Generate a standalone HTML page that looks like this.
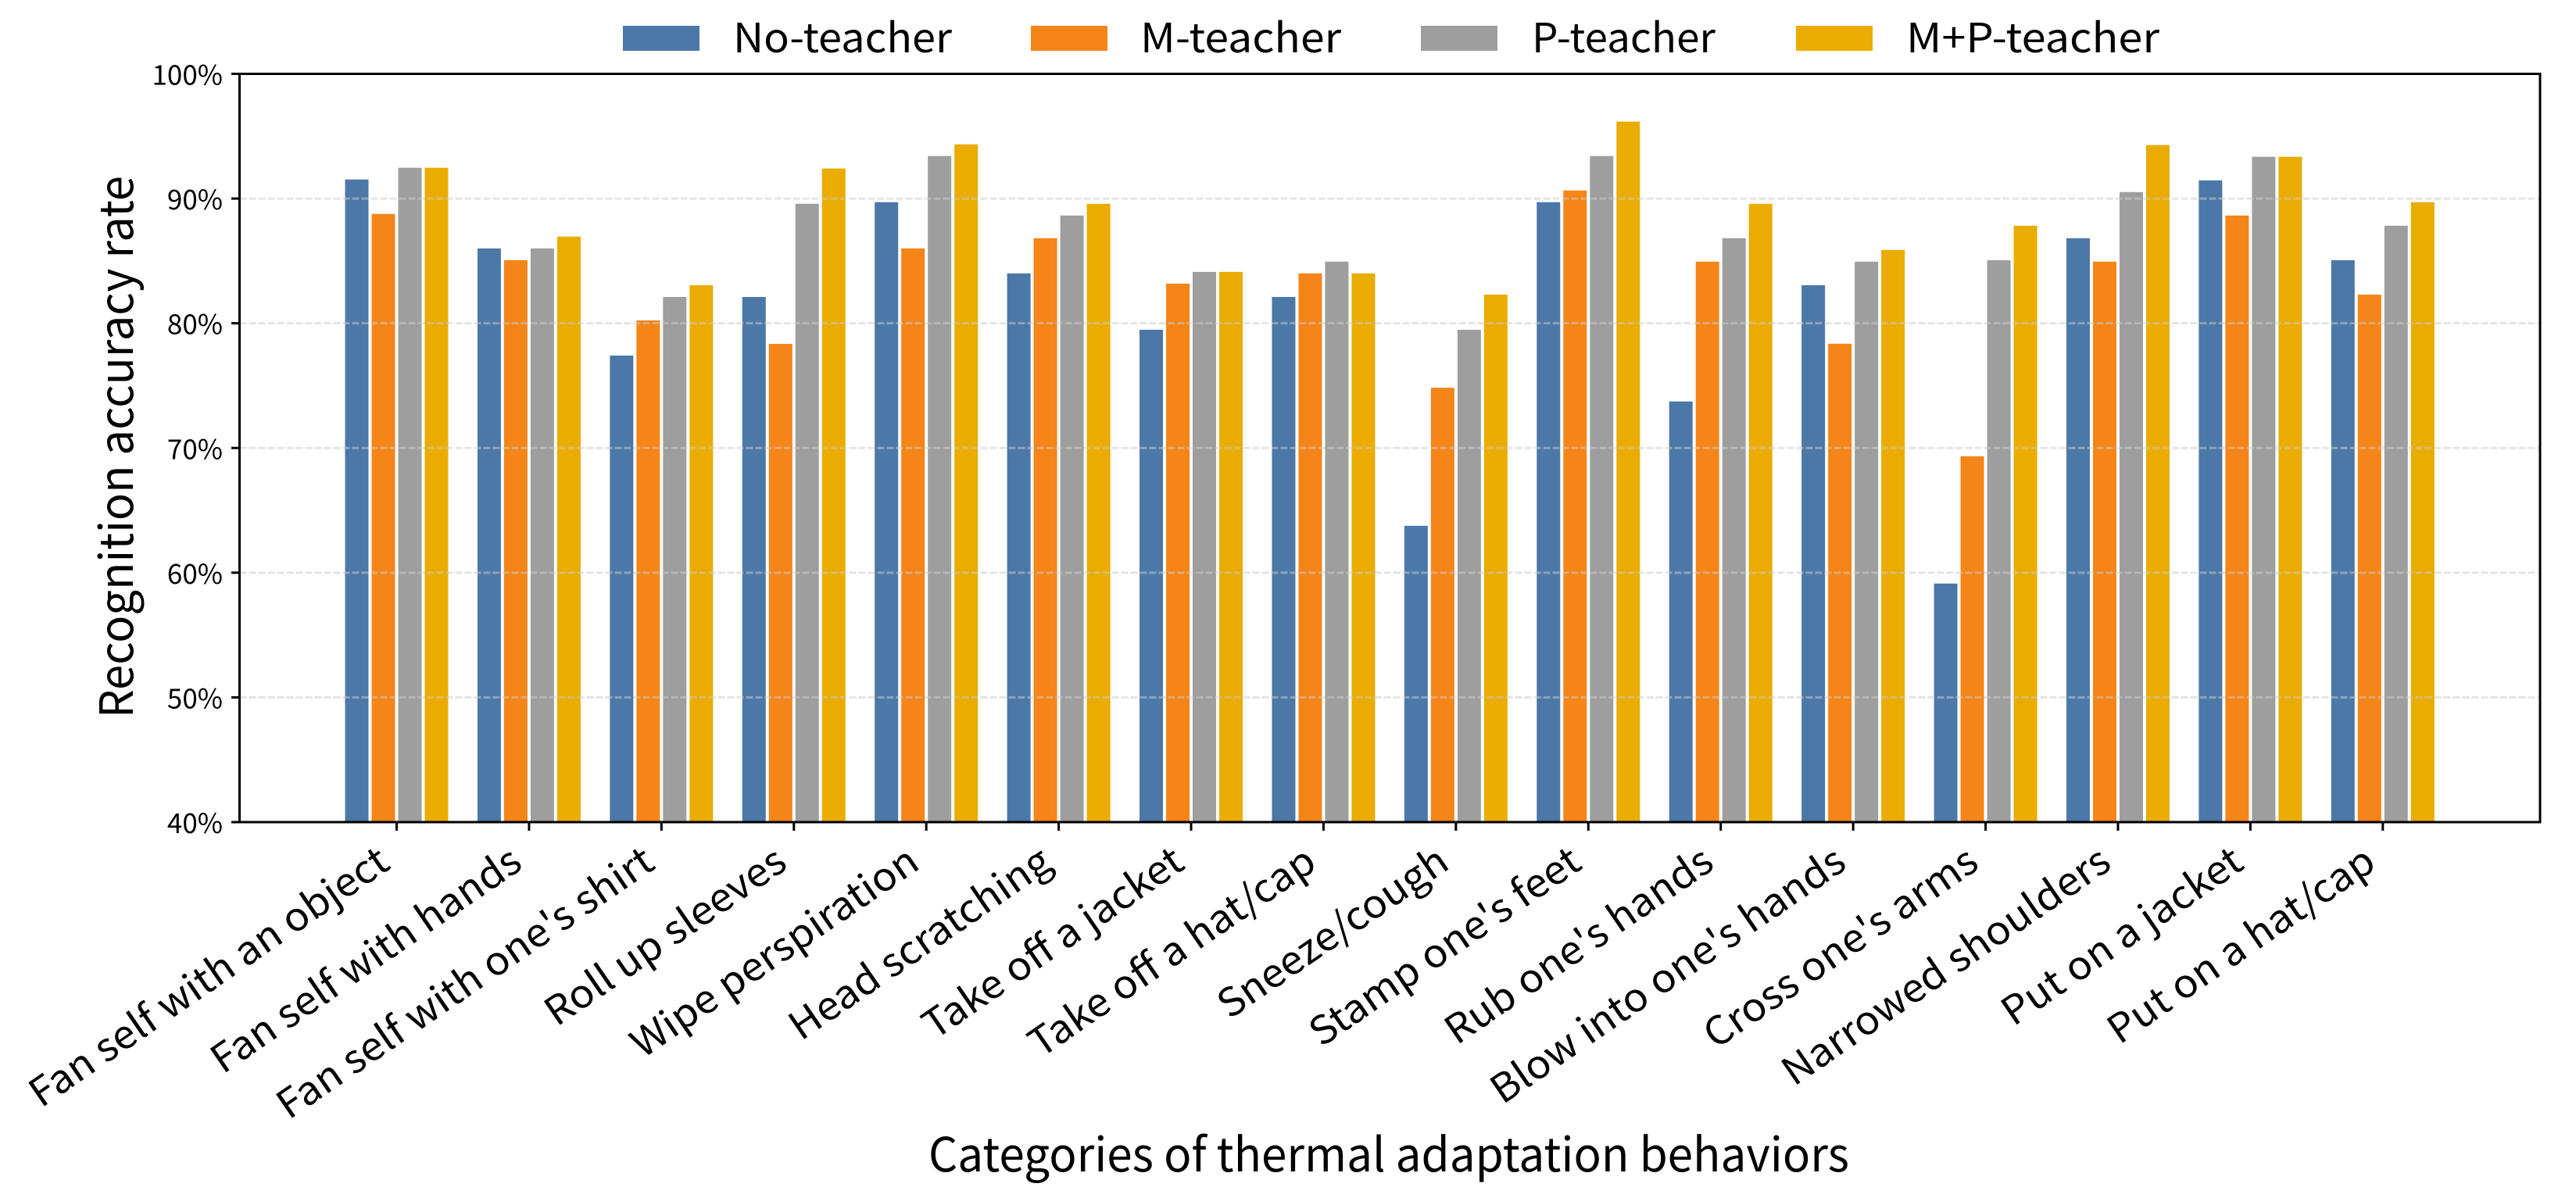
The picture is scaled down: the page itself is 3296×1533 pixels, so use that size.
<!DOCTYPE html>
<html lang="en">
<head>
<meta charset="utf-8">
<title>Recognition accuracy by thermal adaptation behavior</title>
<style>
html,body{margin:0;padding:0;background:#fff;}
body{width:3296px;height:1533px;overflow:hidden;}
svg{display:block;}
text{font-family:"Noto Sans CJK SC","Liberation Sans",sans-serif;fill:#000;}
</style>
</head>
<body>
<svg id="chart" xmlns="http://www.w3.org/2000/svg" width="3296" height="1533" viewBox="0 0 3296 1533">
  <rect x="0" y="0" width="3296" height="1533" fill="#ffffff"/>
  <g id="bars"></g>
  <g id="grid"></g>
  <g id="ticks"></g>
  <g id="ylabels"></g>
  <g id="xlabels"></g>
  <rect x="306.5" y="94.5" width="2943.5" height="957.5" fill="none" stroke="#000" stroke-width="3"/>
  <text transform="translate(170,919) rotate(-90)" font-size="59" textLength="694" lengthAdjust="spacingAndGlyphs">Recognition accuracy rate</text>
  <text x="1188" y="1499" font-size="60" textLength="1178" lengthAdjust="spacingAndGlyphs">Categories of thermal adaptation behaviors</text>
  <g id="legend"></g>
</svg>
<script>
const categories = ["Fan self with an object","Fan self with hands","Fan self with one's shirt","Roll up sleeves","Wipe perspiration","Head scratching","Take off a jacket","Take off a hat/cap","Sneeze/cough","Stamp one's feet","Rub one's hands","Blow into one's hands","Cross one's arms","Narrowed shoulders","Put on a jacket","Put on a hat/cap"];
const noTeacher = [91.53,86.0,77.41,82.11,89.71,84.0,79.48,82.11,63.76,89.71,73.73,83.05,59.13,86.82,91.46,85.06];
const mTeacher = [88.77,85.06,80.23,78.35,86.0,86.82,83.18,84.0,74.83,90.65,84.94,78.36,69.34,84.94,88.64,82.3];
const pTeacher = [92.47,86.0,82.11,89.58,93.41,88.64,84.12,84.94,79.48,93.41,86.82,84.94,85.06,90.52,93.35,87.82];
const mpTeacher = [92.47,86.95,83.05,92.41,94.35,89.58,84.12,84.0,82.3,96.17,89.58,85.88,87.82,94.29,93.35,89.71];
const seriesNames = ["No-teacher","M-teacher","P-teacher","M+P-teacher"];
const seriesColors = ["#4c78a8","#f58518","#9e9e9e","#eaac00"];
const yTicks = [40,50,60,70,80,90,100];
const gridTicks = [50,60,70,80,90];

const NS = "http://www.w3.org/2000/svg";
const allSeries = [noTeacher, mTeacher, pTeacher, mpTeacher];
const plotLeft = 306.5, plotRight = 3250, plotTop = 94.5, plotBottom = 1052;
const groupStep = 169.42, firstGroup = 507.5, barStep = 34, barWidth = 30;

function yScale(v){ return plotBottom - (v - 40) * (plotBottom - plotTop) / 60; }
function xScale(i){ return firstGroup + i * groupStep; }
function make(tag, attrs){
  const el = document.createElementNS(NS, tag);
  for (const k in attrs) el.setAttribute(k, attrs[k]);
  return el;
}
function slug(s){ return s.toLowerCase().replace(/[^a-z0-9]+/g, "-").replace(/^-|-$/g, ""); }

const barsG = document.getElementById("bars");
allSeries.forEach(function(values, s){
  values.forEach(function(v, i){
    const x = xScale(i) + (s - 1.5) * barStep - barWidth / 2;
    const y = yScale(v);
    const bar = make("rect", {x:x, y:y, width:barWidth, height:plotBottom - y, fill:seriesColors[s]});
    
    
    barsG.appendChild(bar);
  });
});

const gridG = document.getElementById("grid");
gridTicks.forEach(function(t){
  const y = yScale(t);
  const line = make("line", {x1:plotLeft, x2:plotRight, y1:y, y2:y, stroke:"#cccccc", "stroke-opacity":0.5, "stroke-width":3, "stroke-dasharray":"9 3"});
  
  
  gridG.appendChild(line);
});

const ticksG = document.getElementById("ticks");
const yLabG = document.getElementById("ylabels");
yTicks.forEach(function(t){
  const y = yScale(t);
  const tick = make("line", {x1:296, x2:plotLeft, y1:y, y2:y, stroke:"#000", "stroke-width":3});
  
  
  ticksG.appendChild(tick);
  const lab = make("text", {x:285, y:y + 14, "text-anchor":"end", "font-size":35});
  
  
  lab.textContent = t + "%";
  yLabG.appendChild(lab);
});

const xLabG = document.getElementById("xlabels");
categories.forEach(function(c, i){
  const x = xScale(i);
  const tick = make("line", {x1:x, x2:x, y1:plotBottom, y2:plotBottom + 11, stroke:"#000", "stroke-width":3});
  
  
  ticksG.appendChild(tick);
  const lab = make("text", {transform:"translate(" + (x - 6) + ",1110) rotate(-34.5) scale(1.05,1)", "text-anchor":"end", "font-size":50});
  
  
  lab.textContent = c;
  xLabG.appendChild(lab);
});

const legendSwatchX = [797,1319,1818,2298];
const legendTextX = [938,1459,1960,2439];
const legendTextLen = [280,257,235,324];
const legendG = document.getElementById("legend");
seriesNames.forEach(function(n, s){
  const sw = make("rect", {x:legendSwatchX[s], y:33, width:98, height:32, fill:seriesColors[s]});
  
  
  legendG.appendChild(sw);
  const t = make("text", {x:legendTextX[s], y:67, "font-size":52, textLength:legendTextLen[s], lengthAdjust:"spacingAndGlyphs"});
  
  
  t.textContent = n;
  legendG.appendChild(t);
});
</script>
</body>
</html>
